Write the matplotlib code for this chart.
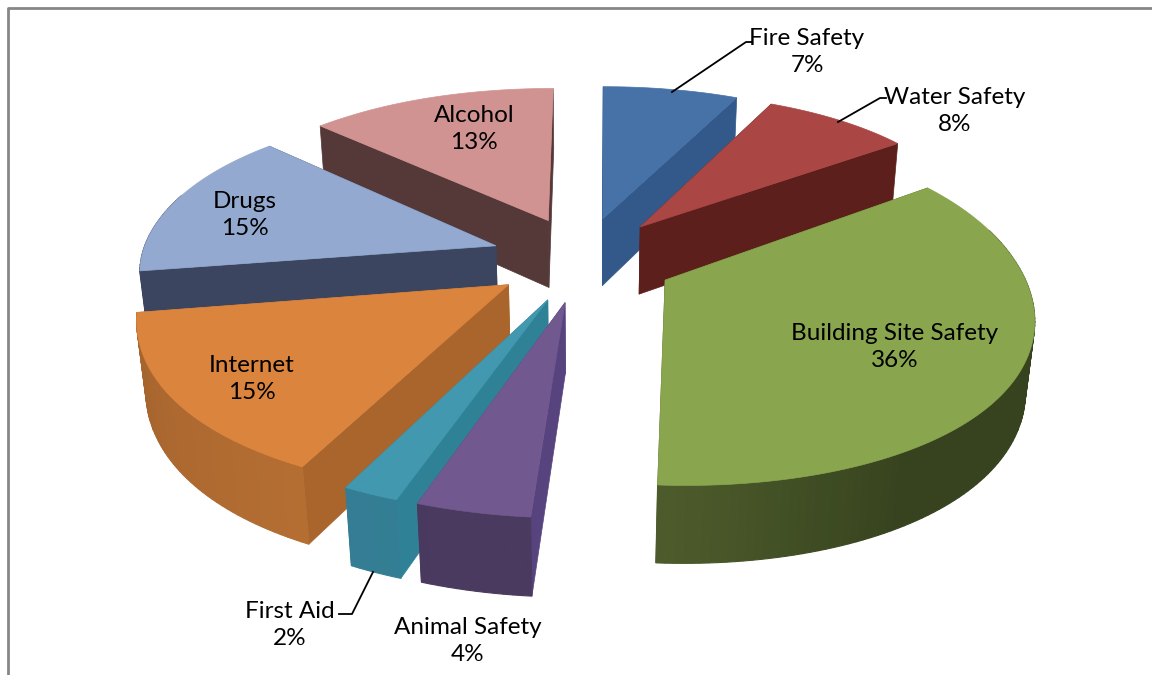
import numpy as np
import matplotlib
matplotlib.use("Agg")
import matplotlib.pyplot as plt
from matplotlib.patches import Polygon

plt.rcParams['font.family'] = ['Lato', 'DejaVu Sans']

# pie data, clockwise from 12 o'clock
categories = ["Fire Safety", "Water Safety", "Building Site Safety", "Animal Safety",
              "First Aid", "Internet", "Drugs", "Alcohol"]
values = [7, 8, 36, 4, 2, 15, 15, 13]
top_colors = ["#4672A8", "#AA4644", "#89A54E", "#71588F", "#4198AF", "#DB843D", "#93A9CF", "#D19392"]
side_colors = ["#32598A", "#5C1F1C", "#4F6128", "#57447F", "#2F8296", "#A9652C", "#3B4560", "#553838"]
wall_light = ["#3D6595", "#7A2B28", "#4E5C2C", "#4A3A60", "#357F96", "#B87033", "#3B4560", "#6B4645"]
wall_dark = ["#2C4E78", "#5A1F1D", "#36431E", "#45345A", "#2F7488", "#A5642E", "#3B4560", "#503534"]

label_pos = [(807, 52), (955, 111), (895, 347), (468, 641), (290, 625), (252, 379), (245, 215), (474, 129)]
leaders = [
    [(672, 92), (746, 42), (752, 42)],
    [(838, 122), (880, 98), (886, 98)],
    None, None,
    [(373, 572), (352, 614), (339, 614)],
    None, None, None,
]

# projection of the tilted pie onto the page
CX, CY = 583, 259
A, B, D = 353, 165, 70
K, M = 0.16, 0.02
C, SX, SY = 0.04, 2, 6
EXPLODE = 0.26


def project(x, y, z):
    w = 1 + K * y - M * z
    return (CX + A * x * (1 + C * y * y) / w + SX * max(y, 0),
            CY - (B * y + D * z) / w + SY * min(x, 0) * np.clip(1 - y, 0, 1))


def mix(c1, c2, t):
    a = np.array(matplotlib.colors.to_rgb(c1))
    b = np.array(matplotlib.colors.to_rgb(c2))
    return tuple(a + (b - a) * t)


fig = plt.figure(figsize=(11.52, 6.75), dpi=100)
ax = fig.add_axes([0, 0, 1, 1])
ax.set_xlim(0, 1152)
ax.set_ylim(675, 0)
ax.axis("off")

# chart frame, only top and left are in the crop
ax.plot([7.5, 7.5, 1152], [675, 8, 8], color="#868686", lw=2, zorder=1)

total = sum(values)
edges = np.cumsum([0] + values) / total * 2 * np.pi
slices = []
for i in range(len(values)):
    mid = (edges[i] + edges[i + 1]) / 2
    slices.append((-np.cos(mid), i))

z = 10
for _, i in sorted(slices):
    a0, a1 = edges[i], edges[i + 1]
    mid = (a0 + a1) / 2
    ox, oy = EXPLODE * np.sin(mid), EXPLODE * np.cos(mid)
    n = max(int((a1 - a0) / 0.02), 4)
    angles = np.linspace(a0, a1, n + 1)
    xs, ys = ox + np.sin(angles), oy + np.cos(angles)

    # flat walls along the two cut edges
    for a in (a0, a1):
        px, py = ox + np.sin(a), oy + np.cos(a)
        pts = [project(ox, oy, 0), project(px, py, 0), project(px, py, -1), project(ox, oy, -1)]
        ax.add_patch(Polygon(pts, closed=True, fc=side_colors[i], ec=side_colors[i], lw=0.5, zorder=z))
        z += 1

    # curved outer wall, shaded strip by strip
    for j in range(n):
        if ys[j] + ys[j + 1] > 2 * oy + 0.6:
            continue
        t = abs(np.sin((angles[j] + angles[j + 1]) / 2 - np.pi / 2))
        col = mix(wall_dark[i], wall_light[i], t ** 2 if i != 2 else min(1, max(0, (angles[j] - 2.6) / 0.6)))
        pts = [project(xs[j], ys[j], 0), project(xs[j + 1], ys[j + 1], 0),
               project(xs[j + 1], ys[j + 1], -1), project(xs[j], ys[j], -1)]
        ax.add_patch(Polygon(pts, closed=True, fc=col, ec=col, lw=0.8, zorder=z))
        z += 1

    # top face
    top = [project(ox, oy, 0)] + [project(x, y, 0) for x, y in zip(xs, ys)]
    ax.add_patch(Polygon(top, closed=True, fc=top_colors[i], ec=top_colors[i], lw=0.5, zorder=z))
    z += 1

for i, name in enumerate(categories):
    if leaders[i]:
        lx, ly = zip(*leaders[i])
        ax.plot(lx, ly, color="black", lw=1.3, zorder=z)
    ax.text(label_pos[i][0], label_pos[i][1], f"{name}\n{values[i]}%", ha="center", va="center",
            fontsize=17.5, color="black", linespacing=1.4, zorder=z + 1)

fig.savefig("out.png", dpi=100)
